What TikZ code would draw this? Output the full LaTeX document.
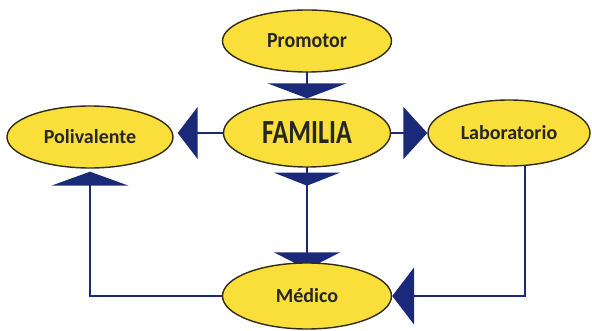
\documentclass[tikz,border=0pt]{standalone}
\usepackage{fontspec}
\setmainfont{Carlito}
\usetikzlibrary{shapes.geometric,arrows.meta,calc,backgrounds}
\definecolor{fillyel}{HTML}{FADF3A}
\definecolor{edgedark}{HTML}{2E2B17}
\definecolor{navy}{HTML}{1B2A78}
\tikzset{
  ent/.style={ellipse, draw=edgedark, line width=1.4pt, fill=fillyel, inner sep=0pt,
    font=\bfseries\fontsize{20}{22}\selectfont, text=black!85},
  conn/.style={draw=navy, line width=2.2pt},
  wedge/.style={fill=navy},
}
\begin{document}
\begin{tikzpicture}[x=1pt,y=-1pt]
\useasboundingbox (0,0) rectangle (592,331);
\node[ent, minimum width=169pt, minimum height=62pt] (prom) at (307,41) {\scalebox{1}[1.08]{Promotor}};
\node[ent, minimum width=167pt, minimum height=68pt, font=\bfseries\fontsize{26}{28}\selectfont] (fam) at (307,133) {\scalebox{1}[1.3]{FAMILIA}};
\node[ent, minimum width=166pt, minimum height=62pt] (poli) at (90,137) {Polivalente};
\node[ent, minimum width=162pt, minimum height=66pt] (lab) at (509,133) {Laboratorio};
\node[ent, minimum width=169pt, minimum height=66pt] (med) at (307,296) {Médico};
\coordinate (labout) at ($(lab.center)+(16,0)$);
\begin{scope}[on background layer]
  \draw[conn, -{Triangle[width=79pt,length=15pt]}] (prom.center) -- (fam.north);
  \draw[conn, -{Triangle[width=52pt,length=20pt]}] (fam.center) -- ($(fam.center -| poli.east)+(4,0)$);
  \draw[conn, -{Triangle[width=52pt,length=24pt]}] (fam.center) -- (fam.center -| lab.west);
  \draw[conn, -{Triangle[width=66pt,length=17pt]}] (fam.center) -- ($(med.north)+(0,7)$);
  \fill[wedge] ($(fam.south)+(-33,5)$) -- ($(fam.south)+(33,5)$) -- ($(fam.south)+(0,18)$) -- cycle;
  \draw[conn, shorten >=3pt, -{Triangle[width=77pt,length=14pt]}] (med.center) -| (poli.south);
  \draw[conn, -{Triangle[width=57pt,length=22pt]}] (labout) |- (med.east);
\end{scope}
\end{tikzpicture}
\end{document}
